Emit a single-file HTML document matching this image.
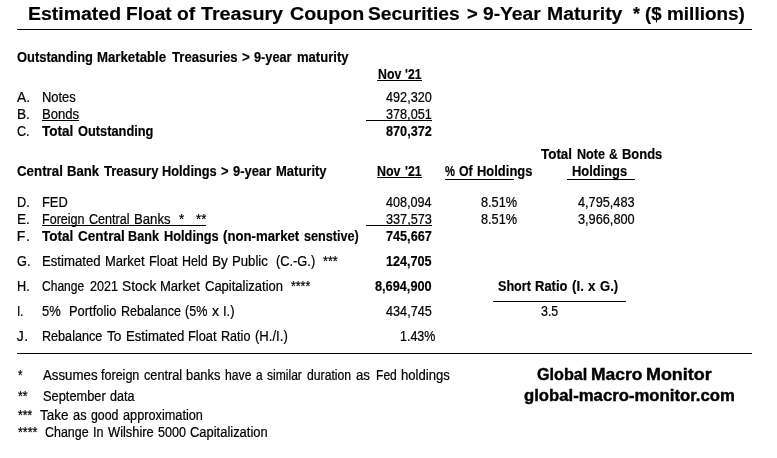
<!DOCTYPE html><html><head><meta charset="utf-8"><title>Estimated Float of Treasury Coupon Securities</title><style>
html,body{margin:0;padding:0;background:#fff}
body{width:777px;height:458px;position:relative;overflow:hidden;font-family:"Liberation Sans",sans-serif;color:#000}
.r{position:absolute;left:0;top:0;white-space:pre;line-height:24px;height:24px}
.r span{position:absolute;top:0;display:block;transform-origin:0 0;white-space:pre}
.r{-webkit-text-stroke:0.22px #000}
.b{font-weight:bold;-webkit-text-stroke:0.18px #000}
.g{-webkit-text-stroke:0.4px #000}
.l{position:absolute;background:#000}
</style></head><body>
<div class="r b" style="top:2px;font-size:18.67px"><span style="left:28.19px;transform:scaleX(1.0433)">Estimated </span><span style="left:125.56px;transform:scaleX(1.0248)">Float </span><span style="left:176.71px;transform:scaleX(1.0283)">of </span><span style="left:201.10px;transform:scaleX(1.0548)">Treasury </span><span style="left:289.63px;transform:scaleX(1.0532)">Coupon </span><span style="left:368.14px;transform:scaleX(1.0264)">Securities </span><span style="left:466.69px;transform:scaleX(0.9893)">&gt; </span><span style="left:483.10px;transform:scaleX(1.0307)">9-Year </span><span style="left:547.44px;transform:scaleX(1.0387)">Maturity  </span><span style="left:633.14px;transform:scaleX(0.9475)">* </span><span style="left:645.00px;transform:scaleX(1.0048)">($ </span><span style="left:667.11px;transform:scaleX(1.0159)">millions)</span></div>
<div class="r b" style="top:45px;font-size:14px"><span style="left:16.87px;transform:scaleX(0.9212)">Outstanding </span><span style="left:97.31px;transform:scaleX(0.9446)">Marketable </span><span style="left:172.00px;transform:scaleX(0.9361)">Treasuries </span><span style="left:242.02px;transform:scaleX(0.9670)">&gt; </span><span style="left:254.31px;transform:scaleX(0.9094)">9-year </span><span style="left:296.78px;transform:scaleX(0.9324)">maturity</span></div>
<div class="r b" style="top:62px;font-size:14px"><span style="left:377.60px;transform:scaleX(0.8780)">Nov </span><span style="left:405.12px;transform:scaleX(0.8663)">'21</span></div>
<div class="r" style="top:85px;font-size:14px"><span style="left:17.25px;transform:scaleX(0.9823)">A.</span></div>
<div class="r" style="top:85px;font-size:14px"><span style="left:42.08px;transform:scaleX(0.9214)">Notes</span></div>
<div class="r" style="top:85px;font-size:14px"><span style="left:385.99px;transform:scaleX(0.9053)">492,320</span></div>
<div class="r" style="top:102px;font-size:14px"><span style="left:16.52px;transform:scaleX(0.9770)">B.</span></div>
<div class="r" style="top:102px;font-size:14px"><span style="left:42.06px;transform:scaleX(0.9360)">Bonds</span></div>
<div class="r" style="top:102px;font-size:14px"><span style="left:386.04px;transform:scaleX(0.9041)">378,051</span></div>
<div class="r" style="top:119px;font-size:14px"><span style="left:17.06px;transform:scaleX(0.9018)">C.</span></div>
<div class="r b" style="top:119px;font-size:14px"><span style="left:42.20px;transform:scaleX(0.9672)">Total </span><span style="left:78.22px;transform:scaleX(0.9153)">Outstanding</span></div>
<div class="r b" style="top:119px;font-size:14px"><span style="left:385.90px;transform:scaleX(0.9069)">870,372</span></div>
<div class="r b" style="top:142px;font-size:14px"><span style="left:541.20px;transform:scaleX(0.9579)">Total </span><span style="left:576.70px;transform:scaleX(0.9010)">Note </span><span style="left:609.08px;transform:scaleX(0.8643)">&amp; </span><span style="left:622.24px;transform:scaleX(0.9245)">Bonds</span></div>
<div class="r b" style="top:159px;font-size:14px"><span style="left:16.85px;transform:scaleX(0.9510)">Central </span><span style="left:67.31px;transform:scaleX(0.9382)">Bank </span><span style="left:103.75px;transform:scaleX(0.9316)">Treasury </span><span style="left:162.33px;transform:scaleX(0.9123)">Holdings </span><span style="left:221.23px;transform:scaleX(0.9250)">&gt; </span><span style="left:233.21px;transform:scaleX(0.9276)">9-year </span><span style="left:275.82px;transform:scaleX(0.9292)">Maturity</span></div>
<div class="r b" style="top:159px;font-size:14px"><span style="left:377.10px;transform:scaleX(0.8882)">Nov </span><span style="left:404.93px;transform:scaleX(0.8764)">'21</span></div>
<div class="r b" style="top:159px;font-size:14px"><span style="left:445.26px;transform:scaleX(0.8000)">% </span><span style="left:458.68px;transform:scaleX(0.8784)">Of </span><span style="left:476.92px;transform:scaleX(0.9256)">Holdings</span></div>
<div class="r b" style="top:159px;font-size:14px"><span style="left:572.32px;transform:scaleX(0.9205)">Holdings</span></div>
<div class="r" style="top:190px;font-size:14px"><span style="left:16.59px;transform:scaleX(0.9063)">D.</span></div>
<div class="r" style="top:190px;font-size:14px"><span style="left:42.08px;transform:scaleX(0.9193)">FED</span></div>
<div class="r" style="top:190px;font-size:14px"><span style="left:385.86px;transform:scaleX(0.9006)">408,094</span></div>
<div class="r" style="top:190px;font-size:14px"><span style="left:481.40px;transform:scaleX(0.9089)">8.51%</span></div>
<div class="r" style="top:190px;font-size:14px"><span style="left:578.30px;transform:scaleX(0.9087)">4,795,483</span></div>
<div class="r" style="top:207px;font-size:14px"><span style="left:16.52px;transform:scaleX(0.9770)">E.</span></div>
<div class="r" style="top:207px;font-size:14px"><span style="left:42.10px;transform:scaleX(0.8957)">Foreign </span><span style="left:89.16px;transform:scaleX(0.8981)">Central </span><span style="left:134.07px;transform:scaleX(0.9408)">Banks  </span><span style="left:178.79px;transform:scaleX(0.9483)">*   </span><span style="left:195.79px;transform:scaleX(0.9413)">**</span></div>
<div class="r" style="top:207px;font-size:14px"><span style="left:385.98px;transform:scaleX(0.9054)">337,573</span></div>
<div class="r" style="top:207px;font-size:14px"><span style="left:481.40px;transform:scaleX(0.9089)">8.51%</span></div>
<div class="r" style="top:207px;font-size:14px"><span style="left:578.16px;transform:scaleX(0.9097)">3,966,800</span></div>
<div class="r" style="top:224px;font-size:14px"><span style="left:16.80px;letter-spacing:2.24px;transform:scaleX(1.0000)">F.</span></div>
<div class="r b" style="top:224px;font-size:14px"><span style="left:42.20px;transform:scaleX(0.9672)">Total </span><span style="left:78.00px;transform:scaleX(0.9687)">Central </span><span style="left:128.34px;transform:scaleX(0.9042)">Bank </span><span style="left:164.23px;transform:scaleX(0.9123)">Holdings </span><span style="left:223.04px;transform:scaleX(0.9419)">(non-market </span><span style="left:303.56px;transform:scaleX(0.9032)">senstive)</span></div>
<div class="r b" style="top:224px;font-size:14px"><span style="left:386.04px;transform:scaleX(0.9042)">745,667</span></div>
<div class="r" style="top:249px;font-size:14px"><span style="left:17.06px;transform:scaleX(0.9089)">G.</span></div>
<div class="r" style="top:249px;font-size:14px"><span style="left:42.06px;transform:scaleX(0.9410)">Estimated </span><span style="left:105.01px;transform:scaleX(0.9243)">Market </span><span style="left:148.97px;transform:scaleX(0.9207)">Float </span><span style="left:181.96px;transform:scaleX(0.8915)">Held </span><span style="left:211.85px;transform:scaleX(0.9735)">By </span><span style="left:231.87px;transform:scaleX(0.9397)">Public  </span><span style="left:275.91px;transform:scaleX(0.9158)">(C.-G.)  </span><span style="left:323.15px;transform:scaleX(0.8997)">***</span></div>
<div class="r b" style="top:249px;font-size:14px"><span style="left:385.85px;transform:scaleX(0.9018)">124,705</span></div>
<div class="r" style="top:274px;font-size:14px"><span style="left:16.59px;transform:scaleX(0.9063)">H.</span></div>
<div class="r" style="top:274px;font-size:14px"><span style="left:41.98px;letter-spacing:-0.00px;transform:scaleX(0.8600)">Change </span><span style="left:89.91px;transform:scaleX(0.8975)">2021 </span><span style="left:121.74px;transform:scaleX(0.9806)">Stock </span><span style="left:160.17px;transform:scaleX(0.9307)">Market </span><span style="left:204.50px;transform:scaleX(0.9280)">Capitalization  </span><span style="left:290.65px;transform:scaleX(0.8810)">****</span></div>
<div class="r b" style="top:274px;font-size:14px"><span style="left:374.97px;transform:scaleX(0.9093)">8,694,900</span></div>
<div class="r b" style="top:274px;font-size:14px"><span style="left:497.82px;transform:scaleX(0.9000)">Short </span><span style="left:535.02px;transform:scaleX(0.9285)">Ratio </span><span style="left:572.03px;transform:scaleX(0.9526)">(I. </span><span style="left:588.06px;transform:scaleX(0.9602)">x </span><span style="left:599.91px;transform:scaleX(0.9351)">G.)</span></div>
<div class="r" style="top:299px;font-size:14px"><span style="left:17.49px;letter-spacing:-0.34px;transform:scaleX(0.8600)">I.</span></div>
<div class="r" style="top:299px;font-size:14px"><span style="left:42.45px;transform:scaleX(0.9242)">5%  </span><span style="left:69.38px;transform:scaleX(0.9218)">Portfolio </span><span style="left:120.96px;transform:scaleX(0.8964)">Rebalance </span><span style="left:185.45px;transform:scaleX(0.8961)">(5% </span><span style="left:211.96px;transform:scaleX(1.0028)">x </span><span style="left:223.12px;transform:scaleX(0.9254)">I.)</span></div>
<div class="r" style="top:299px;font-size:14px"><span style="left:386.02px;transform:scaleX(0.9045)">434,745</span></div>
<div class="r" style="top:299px;font-size:14px"><span style="left:540.67px;transform:scaleX(0.8858)">3.5</span></div>
<div class="r" style="top:324px;font-size:14px"><span style="left:16.81px;letter-spacing:0.33px;transform:scaleX(1.0000)">J.</span></div>
<div class="r" style="top:324px;font-size:14px"><span style="left:42.10px;transform:scaleX(0.9001)">Rebalance </span><span style="left:106.86px;transform:scaleX(0.9815)">To </span><span style="left:125.68px;transform:scaleX(0.9376)">Estimated </span><span style="left:188.41px;transform:scaleX(0.9174)">Float </span><span style="left:221.27px;transform:scaleX(0.8990)">Ratio </span><span style="left:255.15px;transform:scaleX(0.9367)">(H./I.)</span></div>
<div class="r" style="top:324px;font-size:14px"><span style="left:399.61px;transform:scaleX(0.8909)">1.43%</span></div>
<div class="r" style="top:363px;font-size:14px"><span style="left:17.68px;transform:scaleX(0.8267)">*</span></div>
<div class="r" style="top:363px;font-size:14px"><span style="left:42.50px;transform:scaleX(0.9476)">Assumes </span><span style="left:101.12px;transform:scaleX(0.8959)">foreign </span><span style="left:143.74px;transform:scaleX(0.9070)">central </span><span style="left:186.36px;transform:scaleX(0.9208)">banks </span><span style="left:225.02px;transform:scaleX(0.8696)">have </span><span style="left:255.97px;transform:scaleX(0.8407)">a </span><span style="left:266.59px;transform:scaleX(0.8628)">similar </span><span style="left:306.57px;transform:scaleX(0.8726)">duration </span><span style="left:356.03px;transform:scaleX(0.9450)">as </span><span style="left:375.54px;transform:scaleX(0.8629)">Fed </span><span style="left:400.56px;transform:scaleX(0.9373)">holdings</span></div>
<div class="r" style="top:384px;font-size:14px"><span style="left:17.65px;transform:scaleX(0.8835)">**</span></div>
<div class="r" style="top:384px;font-size:14px"><span style="left:43.13px;transform:scaleX(0.9159)">September </span><span style="left:110.25px;transform:scaleX(0.8976)">data</span></div>
<div class="r" style="top:403px;font-size:14px"><span style="left:17.66px;transform:scaleX(0.8682)">***</span></div>
<div class="r" style="top:403px;font-size:14px"><span style="left:40.43px;transform:scaleX(0.9657)">Take </span><span style="left:73.18px;transform:scaleX(0.9159)">as </span><span style="left:91.07px;transform:scaleX(0.8816)">good </span><span style="left:122.84px;transform:scaleX(0.9086)">approximation</span></div>
<div class="r" style="top:420px;font-size:14px"><span style="left:17.65px;transform:scaleX(0.8929)">****</span></div>
<div class="r" style="top:420px;font-size:14px"><span style="left:45.06px;transform:scaleX(0.8891)">Change </span><span style="left:93.15px;transform:scaleX(0.9015)">In </span><span style="left:107.97px;transform:scaleX(0.9193)">Wilshire </span><span style="left:157.95px;transform:scaleX(0.8970)">5000 </span><span style="left:190.21px;transform:scaleX(0.9237)">Capitalization</span></div>
<div class="r b g" style="top:363px;font-size:15.6px"><span style="left:536.60px;transform:scaleX(1.0366)">Global </span><span style="left:590.50px;transform:scaleX(1.1206)">Macro </span><span style="left:646.08px;transform:scaleX(1.1478)">Monitor</span></div>
<div class="r b g" style="top:384px;font-size:15.6px"><span style="left:524.48px;transform:scaleX(1.0715)">global-macro-monitor.com</span></div>
<div class="l" style="left:17px;top:29px;width:735px;height:1px"></div>
<div class="l" style="left:17px;top:353px;width:735px;height:1px"></div>
<div class="l" style="left:377px;top:80px;width:45px;height:1px"></div>
<div class="l" style="left:42px;top:120px;width:37px;height:1px"></div>
<div class="l" style="left:366px;top:120px;width:66px;height:1px"></div>
<div class="l" style="left:377px;top:177px;width:45px;height:1px"></div>
<div class="l" style="left:445px;top:179px;width:68.75px;height:1px"></div>
<div class="l" style="left:567px;top:179px;width:68px;height:1px"></div>
<div class="l" style="left:42px;top:225px;width:163.75px;height:1px"></div>
<div class="l" style="left:366px;top:225px;width:66px;height:1px"></div>
<div class="l" style="left:493px;top:301px;width:133.25px;height:1px"></div>
</body></html>
